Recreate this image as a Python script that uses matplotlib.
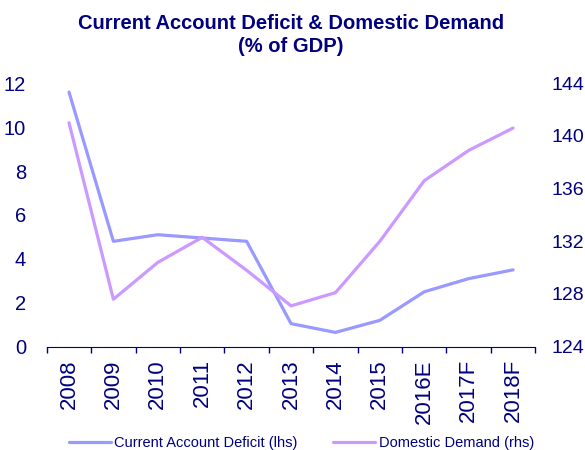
import numpy as np
import matplotlib.pyplot as plt

# data
years = ['2008', '2009', '2010', '2011', '2012', '2013', '2014', '2015', '2016E', '2017F', '2018F']
current_account_deficit = [11.6, 4.8, 5.1, 4.95, 4.8, 1.05, 0.65, 1.2, 2.5, 3.1, 3.5]
domestic_demand = [141.0, 127.6, 130.4, 132.3, 129.8, 127.1, 128.1, 132.0, 136.6, 138.9, 140.6]

navy = '#000080'
blue = '#9999ff'
purple = '#cc99ff'

plt.rcParams['font.family'] = ['Liberation Sans', 'DejaVu Sans']

fig = plt.figure(figsize=(5.85, 4.5), dpi=100)
ax = fig.add_axes([0.080, 0.2296, 0.835, 0.5854])
ax2 = ax.twinx()

x = np.arange(len(years))
l1, = ax.plot(x, current_account_deficit, color=blue, lw=2.3, solid_capstyle='round')
l2, = ax2.plot(x, domestic_demand, color=purple, lw=2.3, solid_capstyle='round')

ax.set_xlim(-0.5, len(years) - 0.5)
ax.set_ylim(0, 12)
ax.set_yticks(range(0, 13, 2))
ax2.set_ylim(124, 144)
ax2.set_yticks(range(124, 145, 4))

# category ticks between labels
ax.set_xticks(np.arange(-0.5, len(years), 1.0))
ax.set_xticklabels([])
ax.set_xticks(x, minor=True)
ax.set_xticklabels(years, minor=True, rotation=90, fontsize=16, color=navy)
ax.tick_params(axis='x', which='major', direction='out', length=4, color=navy, width=1)
ax.tick_params(axis='x', which='minor', length=0, pad=9)

ax.tick_params(axis='y', length=0, labelsize=14.5, labelcolor=navy, pad=15)
ax2.tick_params(axis='y', length=0, labelsize=14, labelcolor=navy, pad=12)

for a in (ax, ax2):
    for s in ('top', 'left', 'right'):
        a.spines[s].set_visible(False)
    a.spines['bottom'].set_color(navy)
ax2.spines['bottom'].set_visible(False)

fig.text(0.497, 0.968, 'Current Account Deficit & Domestic Demand\n(% of GDP)',
         ha='center', va='top', fontsize=14.5, fontweight='bold', color=navy, linespacing=1.25)

fig.legend([l1, l2], ['Current Account Deficit (lhs)', 'Domestic Demand (rhs)'],
           loc='lower center', bbox_to_anchor=(0.515, -0.03), ncol=2, frameon=False,
           fontsize=10.5, labelcolor=navy, handlelength=2.9, columnspacing=2.4, handletextpad=0.25)

fig.savefig('out.png', dpi=100)
